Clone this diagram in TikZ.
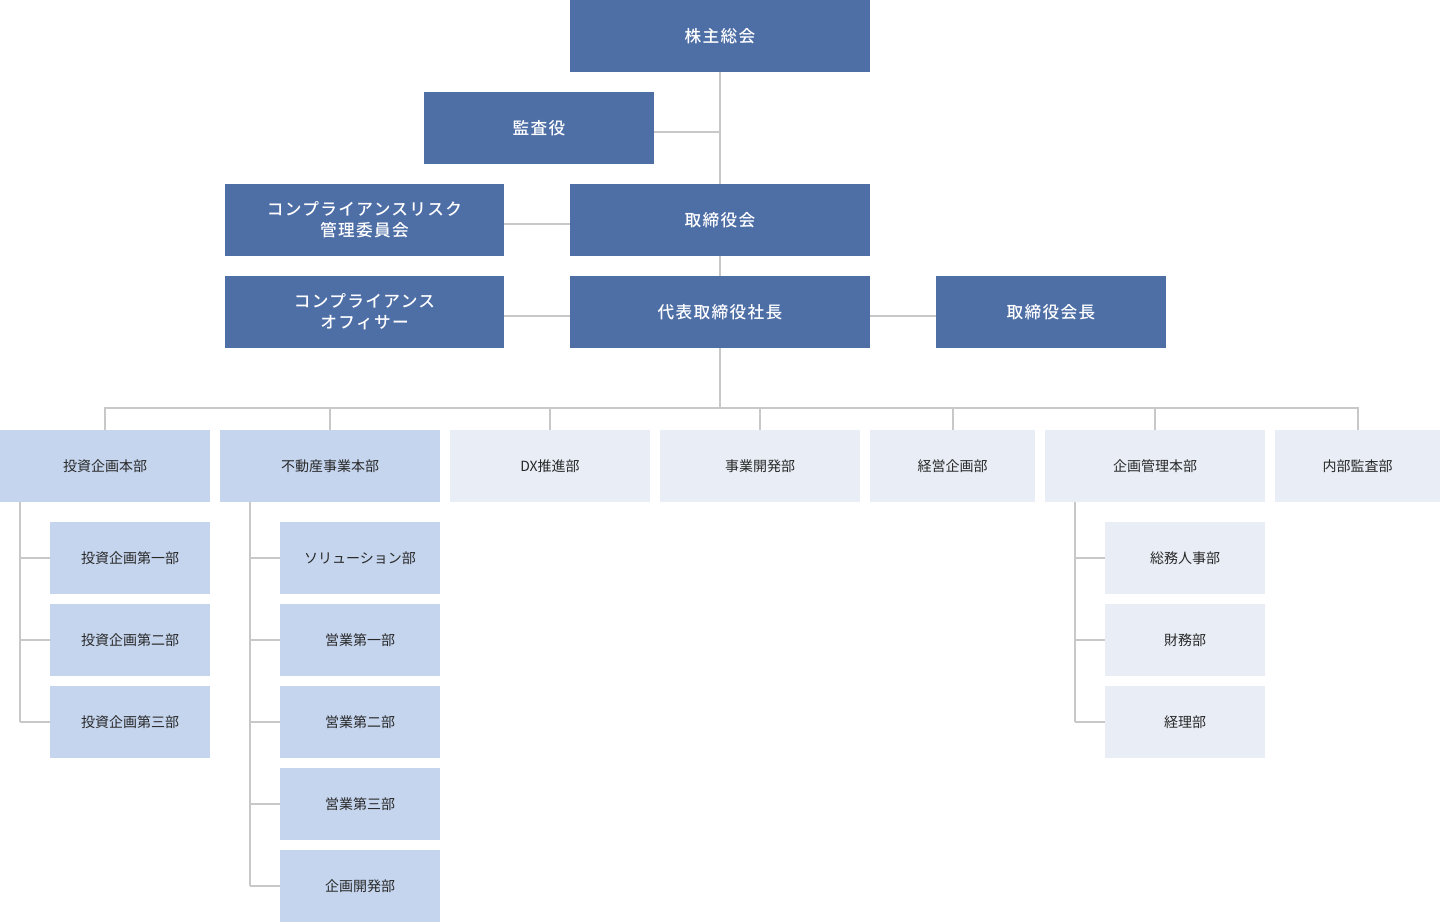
\documentclass[tikz,border=0pt]{standalone}
\usepackage{fontspec}
\setmainfont{Noto Sans CJK JP}
\newfontfamily\jpb[LetterSpace=8]{Noto Sans CJK JP Medium}
\begin{document}
\begin{tikzpicture}[x=0.75pt,y=-0.75pt,
  base/.style={inner sep=0pt,align=center},
  dk/.style={base,fill={rgb,255:red,78;green,110;blue,166},text=white,font=\jpb\fontsize{12.5}{16}\selectfont},
  lt/.style={base,fill={rgb,255:red,197;green,213;blue,238},text={rgb,255:red,40;green,40;blue,40},font=\fontsize{10.5}{13}\selectfont},
  vl/.style={base,fill={rgb,255:red,233;green,238;blue,246},text={rgb,255:red,40;green,40;blue,40},font=\fontsize{10.5}{13}\selectfont},
  ln/.style={draw={rgb,255:red,200;green,200;blue,200},line width=1.5pt}]
\useasboundingbox (0,0) rectangle (1440,922);
\newcommand\bx[7]{\node[#1,minimum width=(#5-#3)*0.75pt,minimum height=(#6-#4)*0.75pt] (#2) at ({(#3+#5)/2},{(#4+#6)/2}) {#7};}
% lines
\coordinate (bus) at (720,408);
\draw[ln] (720,72) -- (720,408);
\draw[ln] (654,132) -- (720,132);
\draw[ln] (504,224) -- (570,224);
\draw[ln] (504,316) -- (570,316);
\draw[ln] (870,316) -- (936,316);
\draw[ln] (105,430) -- (105,408) -- (1358,408) -- (1358,430);
\foreach \x in {330,550,760,953,1155} \draw[ln] (\x,408) -- (\x,430);
\draw[ln] (20,502) -- (20,722);
\foreach \y in {558,640,722} \draw[ln] (20,\y) -- (50,\y);
\draw[ln] (250,502) -- (250,886);
\foreach \y in {558,640,722,804,886} \draw[ln] (250,\y) -- (280,\y);
\draw[ln] (1075,502) -- (1075,722);
\foreach \y in {558,640,722} \draw[ln] (1075,\y) -- (1105,\y);
% boxes
\bx{dk}{a}{570}{0}{870}{72}{株主総会}
\bx{dk}{b}{424}{92}{654}{164}{監査役}
\bx{dk}{c}{225}{184}{504}{256}{コンプライアンスリスク\\管理委員会}
\bx{dk}{d}{570}{184}{870}{256}{取締役会}
\bx{dk}{e}{225}{276}{504}{348}{コンプライアンス\\オフィサー}
\bx{dk}{f}{570}{276}{870}{348}{代表取締役社長}
\bx{dk}{g}{936}{276}{1166}{348}{取締役会長}
\bx{lt}{h1}{0}{430}{210}{502}{投資企画本部}
\bx{lt}{h2}{220}{430}{440}{502}{不動産事業本部}
\bx{vl}{h3}{450}{430}{650}{502}{DX推進部}
\bx{vl}{h4}{660}{430}{860}{502}{事業開発部}
\bx{vl}{h5}{870}{430}{1035}{502}{経営企画部}
\bx{vl}{h6}{1045}{430}{1265}{502}{企画管理本部}
\bx{vl}{h7}{1275}{430}{1440}{502}{内部監査部}
\bx{lt}{i1}{50}{522}{210}{594}{投資企画第一部}
\bx{lt}{i2}{50}{604}{210}{676}{投資企画第二部}
\bx{lt}{i3}{50}{686}{210}{758}{投資企画第三部}
\bx{lt}{j1}{280}{522}{440}{594}{ソリューション部}
\bx{lt}{j2}{280}{604}{440}{676}{営業第一部}
\bx{lt}{j3}{280}{686}{440}{758}{営業第二部}
\bx{lt}{j4}{280}{768}{440}{840}{営業第三部}
\bx{lt}{j5}{280}{850}{440}{922}{企画開発部}
\bx{vl}{k1}{1105}{522}{1265}{594}{総務人事部}
\bx{vl}{k2}{1105}{604}{1265}{676}{財務部}
\bx{vl}{k3}{1105}{686}{1265}{758}{経理部}
\end{tikzpicture}
\end{document}
